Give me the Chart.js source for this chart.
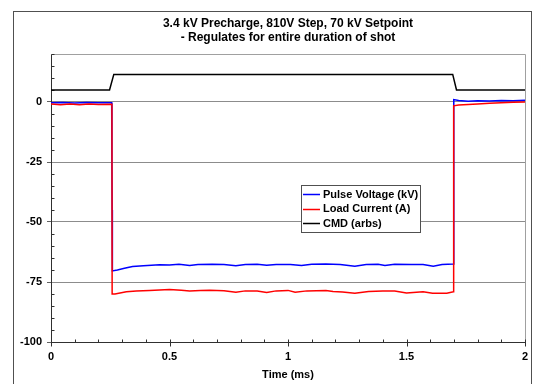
<!DOCTYPE html>
<html><head><meta charset="utf-8">
<script src="https://cdn.jsdelivr.net/npm/chart.js@4/dist/chart.umd.min.js"></script>
<style>html,body{margin:0;padding:0;background:#fff;}#wrap{width:544px;height:384px;position:relative;}canvas{display:block;}</style>
</head><body><div id="wrap"><canvas id="c" width="544" height="384"></canvas></div>
<script>
const chartTitle = ['3.4 kV Precharge, 810V Step, 70 kV Setpoint', '- Regulates for entire duration of shot'];
const xAxisTitle = 'Time (ms)';
const seriesNames = ['Pulse Voltage (kV)', 'Load Current (A)', 'CMD (arbs)'];
const xTickValues = [0, 0.5, 1, 1.5, 2];
const yTickValues = [-100, -75, -50, -25, 0];

const voltTime = [0, 0.05, 0.1, 0.15, 0.2, 0.256, 0.257, 0.258, 0.259, 0.28, 0.31, 0.344, 0.39, 0.458, 0.5, 0.54, 0.585, 0.62, 0.68, 0.73, 0.78, 0.82, 0.87, 0.91, 0.95, 1.01, 1.057, 1.1, 1.16, 1.22, 1.282, 1.33, 1.38, 1.409, 1.45, 1.52, 1.57, 1.613, 1.65, 1.698, 1.699, 1.70, 1.72, 1.76, 1.8, 1.85, 1.9, 1.95, 2];
const voltValues = [-0.3, -0.2, -0.4, -0.2, -0.3, -0.3, -24, -45, -70.4, -70.0, -69.3, -68.5, -68.2, -67.8, -67.9, -67.6, -68.1, -67.7, -67.6, -67.7, -68.2, -67.7, -67.6, -68.0, -67.7, -67.7, -68.1, -67.6, -67.5, -67.7, -68.4, -67.7, -67.6, -68.1, -67.6, -67.7, -67.7, -68.4, -67.7, -67.5, -20, 1.0, 0.6, 0.3, 0.5, 0.4, 0.6, 0.5, 0.7];

const currTime = [0, 0.04, 0.08, 0.12, 0.16, 0.2, 0.257, 0.258, 0.27, 0.318, 0.36, 0.416, 0.5, 0.55, 0.585, 0.63, 0.67, 0.73, 0.78, 0.82, 0.87, 0.91, 0.95, 1.0, 1.03, 1.08, 1.16, 1.19, 1.23, 1.282, 1.34, 1.4, 1.45, 1.5, 1.57, 1.61, 1.67, 1.698, 1.699, 1.72, 1.76, 1.8, 1.85, 1.9, 1.95, 2];
const currValues = [-0.8, -1.1, -0.8, -1.1, -0.8, -1.0, -0.9, -80.0, -80.0, -79.1, -78.8, -78.5, -78.1, -78.4, -78.7, -78.5, -78.4, -78.6, -79.3, -78.7, -78.8, -79.4, -78.7, -78.5, -79.3, -78.7, -78.5, -79.0, -79.2, -79.7, -79.0, -78.7, -78.8, -79.6, -79.1, -79.7, -79.7, -79.1, -1.6, -1.3, -1.0, -0.8, -0.5, -0.3, -0.1, 0.0];

const cmdTime = [0, 0.247, 0.265, 1.695, 1.711, 2];
const cmdValues = [5, 5, 11.5, 11.5, 5, 5];

const seriesColors = ['#0000ff', '#ff0000', '#000000'];

function pts(t, v) { return t.map((x, i) => ({x: x, y: v[i]})); }

const FONT = 'Arial, "Liberation Sans", sans-serif';

const decor = {
  id: 'decor',
  beforeDraw(chart) {
    const ctx = chart.ctx;
    ctx.save();
    ctx.fillStyle = '#fff';
    ctx.fillRect(0, 0, chart.width, chart.height);
    ctx.strokeStyle = '#505050';
    ctx.lineWidth = 1;
    ctx.strokeRect(13.5, 11.5, 518, 420);
    ctx.restore();
  },
  beforeDatasetsDraw(chart) {
    const {ctx, chartArea: a, scales: {x, y}} = chart;
    const L = Math.round(a.left) + 0.5, R = Math.round(a.right) + 0.5;
    const T = Math.round(a.top) + 0.5, B = Math.round(a.bottom) + 0.5;
    ctx.save();
    ctx.lineWidth = 1;
    ctx.strokeStyle = '#a0a0a0';
    ctx.beginPath(); ctx.moveTo(L, T); ctx.lineTo(R, T); ctx.lineTo(R, B); ctx.stroke();
    ctx.strokeStyle = '#303030';
    ctx.beginPath(); ctx.moveTo(L, T); ctx.lineTo(L, B); ctx.lineTo(R, B); ctx.stroke();
    // y minor ticks (inward)
    ctx.beginPath();
    for (let v = y.min; v <= y.max + 1e-9; v += 5) {
      if (Math.abs(v % 25) < 1e-9) continue;
      const py = Math.round(y.getPixelForValue(v)) + 0.5;
      ctx.moveTo(L, py); ctx.lineTo(L + 3, py);
    }
    // x ticks
    for (let i = 0; i <= 20; i++) {
      const v = i / 10;
      const px = Math.round(x.getPixelForValue(v)) + 0.5;
      if (i % 5 === 0) { ctx.moveTo(px, B - 3); ctx.lineTo(px, B + 4); }
      else { ctx.moveTo(px, B - 3); ctx.lineTo(px, B); }
    }
    ctx.stroke();
    ctx.restore();
  },
  afterDraw(chart) {
    const ctx = chart.ctx;
    const ds = chart.data.datasets;
    const bx = 301.5, by = 185.5, bw = 119, bh = 47;
    ctx.save();
    ctx.fillStyle = '#fff';
    ctx.fillRect(bx, by, bw, bh);
    ctx.strokeStyle = '#505050';
    ctx.lineWidth = 1;
    ctx.strokeRect(bx, by, bw, bh);
    ctx.font = 'bold 11px ' + FONT;
    ctx.textBaseline = 'middle';
    ctx.textAlign = 'left';
    ds.forEach((d, i) => {
      const ly = 194 + i * 14.5;
      ctx.strokeStyle = d.borderColor;
      ctx.lineWidth = 1.5;
      ctx.beginPath(); ctx.moveTo(303, Math.round(ly) + 0.5); ctx.lineTo(320, Math.round(ly) + 0.5); ctx.stroke();
      ctx.fillStyle = '#000';
      ctx.fillText(d.label, 323, ly + 0.5);
    });
    ctx.restore();
  }
};

new Chart(document.getElementById('c'), {
  type: 'line',
  data: {
    datasets: [
      {label: seriesNames[0], data: pts(voltTime, voltValues), borderColor: seriesColors[0], order: 1},
      {label: seriesNames[1], data: pts(currTime, currValues), borderColor: seriesColors[1], order: 0},
      {label: seriesNames[2], data: pts(cmdTime, cmdValues), borderColor: seriesColors[2], order: 2}
    ]
  },
  options: {
    responsive: false,
    animation: false,
    devicePixelRatio: 1,
    layout: {padding: {left: 0, right: 19, top: 0, bottom: 0}},
    elements: {line: {borderWidth: 1.5, tension: 0}, point: {radius: 0}},
    plugins: {
      legend: {display: false},
      tooltip: {enabled: false},
      title: {
        display: true, text: chartTitle, color: '#000', fullSize: false,
        font: {family: FONT, size: 12, weight: 'bold', lineHeight: 1.2},
        padding: {top: 16, bottom: 9.2}
      }
    },
    scales: {
      x: {
        type: 'linear', min: 0, max: 2,
        afterBuildTicks: s => { s.ticks = xTickValues.map(v => ({value: v})); },
        afterFit: s => { s.height = 42; },
        grid: {display: false, drawTicks: false},
        border: {display: false},
        ticks: {padding: 8, color: '#000', font: {family: FONT, size: 11, weight: 'bold'}, maxRotation: 0,
          callback: v => String(v)},
        title: {display: true, text: xAxisTitle, color: '#000', padding: {top: 0, bottom: 2},
          font: {family: FONT, size: 11, weight: 'bold'}}
      },
      y: {
        type: 'linear', min: -100, max: 20,
        afterBuildTicks: s => { s.ticks = yTickValues.map(v => ({value: v})); },
        afterFit: s => { s.width = 51; },
        grid: {
          color: c => (c.tick && c.tick.value === -100) ? 'rgba(0,0,0,0)' : '#8c8c8c',
          tickColor: '#606060', tickLength: 4, lineWidth: 1
        },
        border: {display: false},
        ticks: {padding: 5, color: '#000', font: {family: FONT, size: 11, weight: 'bold'},
          callback: v => String(v)}
      }
    }
  },
  plugins: [decor]
});
</script>
</body></html>
